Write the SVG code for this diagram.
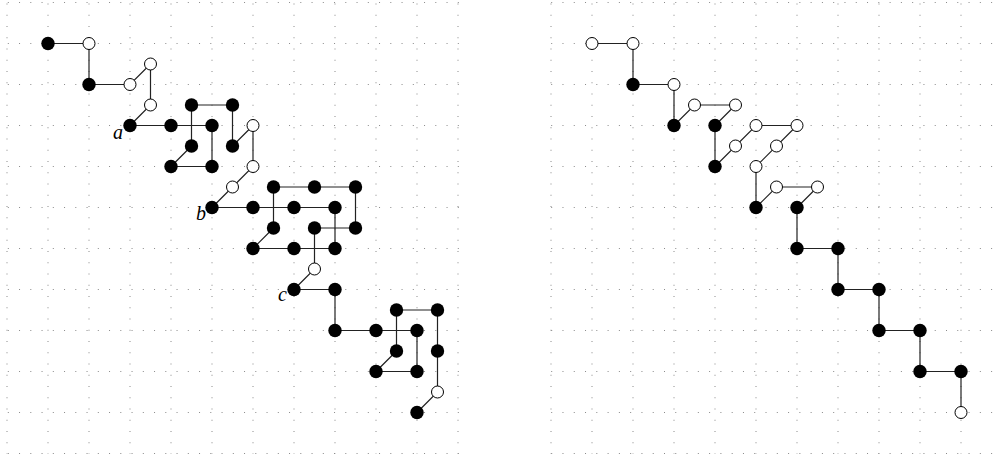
<svg xmlns="http://www.w3.org/2000/svg" width="998" height="462" viewBox="0 0 998 462">
<style>
.bg{fill:#ffffff}
.gh{stroke:#8a8a8a;stroke-width:1;stroke-dasharray:1 10.25;fill:none}
.ghr{stroke:#8a8a8a;stroke-width:1;stroke-dasharray:1 10.28;fill:none}
.gv{stroke:#8a8a8a;stroke-width:1;stroke-dasharray:1 10.25;fill:none}
.e{stroke:#222;stroke-width:1.2;fill:none}
.b{fill:#000}
.w{fill:#fff;stroke:#000;stroke-width:1}
.lbl{font-family:"Liberation Serif",serif;font-style:italic;font-size:20px;fill:#000}
</style>
<rect class="bg" x="0" y="0" width="998" height="462"/>
<g id="grid-left">
<path class="gh" d="M7.8 2.5H459M7.8 43.5H459M7.8 84.5H459M7.8 125.5H459M7.8 166.5H459M7.8 207.5H459M7.8 248.5H459M7.8 289.5H459M7.8 330.5H459M7.8 371.5H459M7.8 412.5H459M7.8 453.5H459"/>
<path class="gv" d="M7 3.5V454M48 3.5V454M89 3.5V454M130 3.5V454M171 3.5V454M212 3.5V454M253 3.5V454M294 3.5V454M335 3.5V454M376 3.5V454M417 3.5V454M458 3.5V454"/>
</g>
<g id="grid-right">
<path class="ghr" d="M551.2 2.5H993M551.2 43.5H993M551.2 84.5H993M551.2 125.5H993M551.2 166.5H993M551.2 207.5H993M551.2 248.5H993M551.2 289.5H993M551.2 330.5H993M551.2 371.5H993M551.2 412.5H993M551.2 453.5H993"/>
<path class="gv" d="M551 3.5V454M592 3.5V454M633 3.5V454M674 3.5V454M715 3.5V454M756 3.5V454M797 3.5V454M838 3.5V454M879 3.5V454M920 3.5V454M961 3.5V454"/>
</g>
<g id="connectors">
<!-- left panel -->
<path class="e" d="M48 43.5H89V84.5H130L150.5 64V105L130 125.5H212"/>
<path class="e" d="M191.5 146V105H232.5V146L253 125.5V166.5L232.5 187L212 207.5H335"/>
<path class="e" d="M191.5 146L171 166.5H212V125.5"/>
<path class="e" d="M273.5 228V187H355.5V228H314.5V269L294 289.5H335V330.5H417"/>
<path class="e" d="M273.5 228L253 248.5H335V207.5"/>
<path class="e" d="M396.5 351V310H437.5V392L417 412.5"/>
<path class="e" d="M396.5 351L376 371.5H417V330.5"/>
<!-- right panel -->
<path class="e" d="M592 43.5H633V84.5H674V125.5L694.5 105H735.5L715 125.5V166.5L756 125.5H797L756 166.5V207.5L776.5 187H817.5L797 207.5V248.5H838V289.5H879V330.5H920V371.5H961V412.5"/>
</g>
<g id="labels">
<text class="lbl" x="123" y="139" text-anchor="end">a</text>
<text class="lbl" x="206" y="220" text-anchor="end">b</text>
<text class="lbl" x="287" y="301" text-anchor="end">c</text>
</g>
<g id="nodes-left">
<g id="L1"><circle class="b" cx="48" cy="43.5" r="6.7"/></g>
<g id="L2"><circle class="w" cx="89" cy="43.5" r="6"/></g>
<g id="L3"><circle class="b" cx="89" cy="84.5" r="6.7"/></g>
<g id="L4"><circle class="w" cx="130" cy="84.5" r="6"/></g>
<g id="L5"><circle class="w" cx="150.5" cy="64" r="6"/></g>
<g id="L6"><circle class="w" cx="150.5" cy="105" r="6"/></g>
<g id="La"><circle class="b" cx="130" cy="125.5" r="6.7"/></g>
<g id="L8"><circle class="b" cx="171" cy="125.5" r="6.7"/></g>
<g id="L9"><circle class="b" cx="212" cy="125.5" r="6.7"/></g>
<g id="L10"><circle class="b" cx="191.5" cy="105" r="6.7"/></g>
<g id="L11"><circle class="b" cx="232.5" cy="105" r="6.7"/></g>
<g id="L12"><circle class="b" cx="191.5" cy="146" r="6.7"/></g>
<g id="L13"><circle class="b" cx="232.5" cy="146" r="6.7"/></g>
<g id="L14"><circle class="b" cx="171" cy="166.5" r="6.7"/></g>
<g id="L15"><circle class="b" cx="212" cy="166.5" r="6.7"/></g>
<g id="L16"><circle class="w" cx="253" cy="125.5" r="6"/></g>
<g id="L17"><circle class="w" cx="253" cy="166.5" r="6"/></g>
<g id="L18"><circle class="w" cx="232.5" cy="187" r="6"/></g>
<g id="Lb"><circle class="b" cx="212" cy="207.5" r="6.7"/></g>
<g id="L20"><circle class="b" cx="253" cy="207.5" r="6.7"/></g>
<g id="L21"><circle class="b" cx="294" cy="207.5" r="6.7"/></g>
<g id="L22"><circle class="b" cx="335" cy="207.5" r="6.7"/></g>
<g id="L23"><circle class="b" cx="273.5" cy="187" r="6.7"/></g>
<g id="L24"><circle class="b" cx="314.5" cy="187" r="6.7"/></g>
<g id="L25"><circle class="b" cx="355.5" cy="187" r="6.7"/></g>
<g id="L26"><circle class="b" cx="273.5" cy="228" r="6.7"/></g>
<g id="L27"><circle class="b" cx="314.5" cy="228" r="6.7"/></g>
<g id="L28"><circle class="b" cx="355.5" cy="228" r="6.7"/></g>
<g id="L29"><circle class="b" cx="253" cy="248.5" r="6.7"/></g>
<g id="L30"><circle class="b" cx="294" cy="248.5" r="6.7"/></g>
<g id="L31"><circle class="b" cx="335" cy="248.5" r="6.7"/></g>
<g id="L32"><circle class="w" cx="314.5" cy="269" r="6"/></g>
<g id="Lc"><circle class="b" cx="294" cy="289.5" r="6.7"/></g>
<g id="L34"><circle class="b" cx="335" cy="289.5" r="6.7"/></g>
<g id="L35"><circle class="b" cx="335" cy="330.5" r="6.7"/></g>
<g id="L36"><circle class="b" cx="376" cy="330.5" r="6.7"/></g>
<g id="L37"><circle class="b" cx="417" cy="330.5" r="6.7"/></g>
<g id="L38"><circle class="b" cx="396.5" cy="310" r="6.7"/></g>
<g id="L39"><circle class="b" cx="437.5" cy="310" r="6.7"/></g>
<g id="L40"><circle class="b" cx="396.5" cy="351" r="6.7"/></g>
<g id="L41"><circle class="b" cx="437.5" cy="351" r="6.7"/></g>
<g id="L42"><circle class="b" cx="376" cy="371.5" r="6.7"/></g>
<g id="L43"><circle class="b" cx="417" cy="371.5" r="6.7"/></g>
<g id="L44"><circle class="w" cx="437.5" cy="392" r="6"/></g>
<g id="L45"><circle class="b" cx="417" cy="412.5" r="6.7"/></g>
</g>
<g id="nodes-right">
<g id="R1"><circle class="w" cx="592" cy="43.5" r="6"/></g>
<g id="R2"><circle class="w" cx="633" cy="43.5" r="6"/></g>
<g id="R3"><circle class="b" cx="633" cy="84.5" r="6.7"/></g>
<g id="R4"><circle class="w" cx="674" cy="84.5" r="6"/></g>
<g id="R5"><circle class="b" cx="674" cy="125.5" r="6.7"/></g>
<g id="R6"><circle class="w" cx="694.5" cy="105" r="6"/></g>
<g id="R7"><circle class="w" cx="735.5" cy="105" r="6"/></g>
<g id="R8"><circle class="b" cx="715" cy="125.5" r="6.7"/></g>
<g id="R9"><circle class="b" cx="715" cy="166.5" r="6.7"/></g>
<g id="R10"><circle class="w" cx="735.5" cy="146" r="6"/></g>
<g id="R11"><circle class="w" cx="756" cy="125.5" r="6"/></g>
<g id="R12"><circle class="w" cx="797" cy="125.5" r="6"/></g>
<g id="R13"><circle class="w" cx="776.5" cy="146" r="6"/></g>
<g id="R14"><circle class="w" cx="756" cy="166.5" r="6"/></g>
<g id="R15"><circle class="b" cx="756" cy="207.5" r="6.7"/></g>
<g id="R16"><circle class="w" cx="776.5" cy="187" r="6"/></g>
<g id="R17"><circle class="w" cx="817.5" cy="187" r="6"/></g>
<g id="R18"><circle class="b" cx="797" cy="207.5" r="6.7"/></g>
<g id="R19"><circle class="b" cx="797" cy="248.5" r="6.7"/></g>
<g id="R20"><circle class="b" cx="838" cy="248.5" r="6.7"/></g>
<g id="R21"><circle class="b" cx="838" cy="289.5" r="6.7"/></g>
<g id="R22"><circle class="b" cx="879" cy="289.5" r="6.7"/></g>
<g id="R23"><circle class="b" cx="879" cy="330.5" r="6.7"/></g>
<g id="R24"><circle class="b" cx="920" cy="330.5" r="6.7"/></g>
<g id="R25"><circle class="b" cx="920" cy="371.5" r="6.7"/></g>
<g id="R26"><circle class="b" cx="961" cy="371.5" r="6.7"/></g>
<g id="R27"><circle class="w" cx="961" cy="412.5" r="6"/></g>
</g>
</svg>
